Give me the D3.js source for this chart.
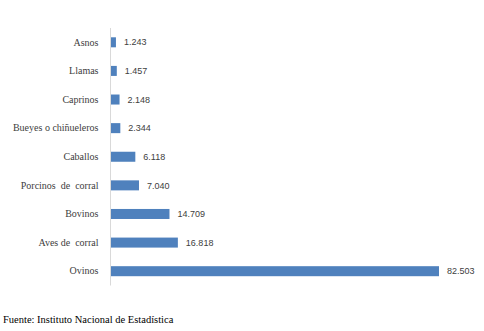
<!DOCTYPE html>
<html>
<head>
<meta charset="utf-8">
<script src="https://cdn.jsdelivr.net/npm/d3@7"></script>
<style>
  html, body { margin: 0; padding: 0; background: #fff; }
  svg { display: block; }
  .serif { font-family: "Liberation Serif", "Times New Roman", Times, serif; }
  .sans { font-family: "Liberation Sans", Arial, sans-serif; }
</style>
</head>
<body>
<svg id="chart" width="484" height="331"></svg>
<script>
// Livestock counts (thousands) by species
const categories = ["Asnos", "Llamas", "Caprinos", "Bueyes o chiñueleros", "Caballos",
  "Porcinos  de  corral", "Bovinos", "Aves de  corral", "Ovinos"];
const values = [1.243, 1.457, 2.148, 2.344, 6.118, 7.040, 14.709, 16.818, 82.503];
const valueLabels = ["1.243", "1.457", "2.148", "2.344", "6.118", "7.040", "14.709", "16.818", "82.503"];
const sourceText = "Fuente: Instituto Nacional de Estadística";

const svg = d3.select("#chart");
const x0 = 111, x1 = 439;
const x = d3.scaleLinear().domain([0, 82.503]).range([x0, x1]);
const y = d3.scaleBand().domain(categories).range([28, 285.5]).paddingInner(0.65).paddingOuter(0.325);

// bars
svg.append("g").selectAll("rect").data(values).join("rect")
  .attr("x", x(0))
  .attr("y", (d, i) => y(categories[i]))
  .attr("width", d => x(d) - x(0))
  .attr("height", y.bandwidth())
  .attr("fill", "#4f81bd");

// category axis
const axis = svg.append("g").attr("transform", `translate(${x0 - 0.5},0)`)
  .call(d3.axisLeft(y).tickSize(0).tickPadding(12))
  .attr("font-family", null).attr("font-size", null);
axis.select(".domain").attr("stroke", "#d9d9d9").attr("stroke-width", 1)
  .attr("d", "M0,28V285.5");
axis.selectAll("text")
  .attr("class", "serif")
  .style("font-size", "10px")
  .attr("fill", "#404040")
  .style("white-space", "pre");

// value labels
svg.append("g").selectAll("text").data(values).join("text")
  .attr("class", "sans")
  .attr("x", d => x(d) + 8)
  .attr("y", (d, i) => y(categories[i]) + y.bandwidth() / 2)
  .attr("dy", "0.35em")
  .style("font-size", "9px")
  .attr("fill", "#404040")
  .text((d, i) => valueLabels[i]);

// source note
svg.append("text")
  .attr("class", "serif")
  .attr("x", 3).attr("y", 323)
  .style("font-size", "10.5px")
  .attr("fill", "#000")
  .text(sourceText);
</script>
</body>
</html>
